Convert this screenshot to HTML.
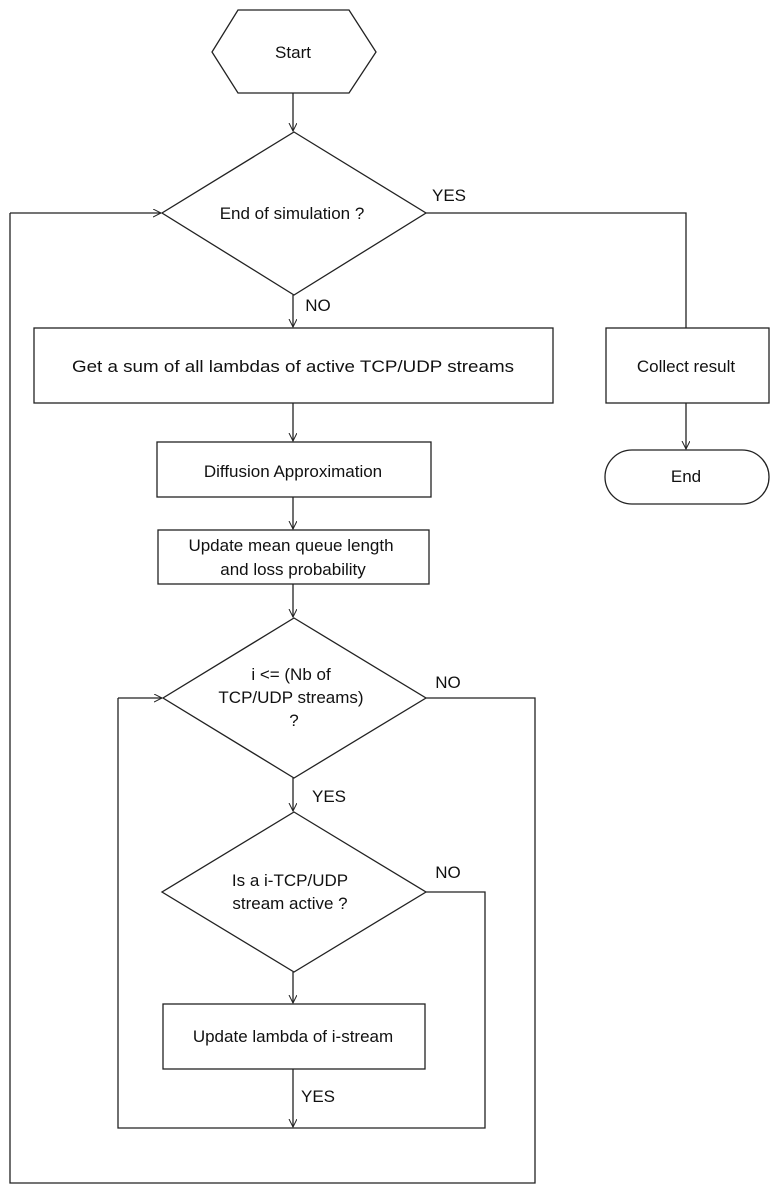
<!DOCTYPE html>
<html><head><meta charset="utf-8"><style>html,body{margin:0;padding:0;background:#fff;}svg{display:block}</style></head>
<body>
<svg width="783" height="1204" viewBox="0 0 783 1204" xmlns="http://www.w3.org/2000/svg">
<defs>
<marker id="a" markerWidth="10" markerHeight="10" refX="8" refY="4" orient="auto" markerUnits="userSpaceOnUse">
<path d="M0,0 L8,4 L0,8" fill="none" stroke="#222" stroke-width="1"/>
</marker>
</defs>
<g fill="none" stroke="#222" stroke-width="1.3">
<polygon points="238,10 349,10 376,52 349,93 238,93 212,52" fill="#fff"/>
<line x1="293" y1="93" x2="293" y2="131" marker-end="url(#a)"/>
<polygon points="294,132 426,213 294,295 162,213"/>
<polyline points="426,213 686,213 686,328"/>
<line x1="293" y1="295" x2="293" y2="327" marker-end="url(#a)"/>
<rect x="34" y="328" width="519" height="75"/>
<rect x="606" y="328" width="163" height="75"/>
<line x1="686" y1="403" x2="686" y2="449" marker-end="url(#a)"/>
<path d="M632,450 L742,450 A27,27 0 0 1 742,504 L632,504 A27,27 0 0 1 632,450 Z"/>
<line x1="293" y1="403" x2="293" y2="441" marker-end="url(#a)"/>
<rect x="157" y="442" width="274" height="55"/>
<line x1="293" y1="497" x2="293" y2="529" marker-end="url(#a)"/>
<rect x="158" y="530" width="271" height="54"/>
<line x1="293" y1="584" x2="293" y2="617" marker-end="url(#a)"/>
<polygon points="294,618 426,698 294,778 163,698"/>
<polyline points="426,698 535,698 535,1183 10,1183 10,213"/>
<line x1="10" y1="213" x2="161" y2="213" marker-end="url(#a)"/>
<line x1="293" y1="778" x2="293" y2="811" marker-end="url(#a)"/>
<polygon points="294,812 426,892 294,972 162,892"/>
<polyline points="426,892 485,892 485,1128 118,1128 118,698"/>
<line x1="118" y1="698" x2="162" y2="698" marker-end="url(#a)"/>
<line x1="293" y1="972" x2="293" y2="1003" marker-end="url(#a)"/>
<rect x="163" y="1004" width="262" height="65"/>
<line x1="293" y1="1069" x2="293" y2="1127" marker-end="url(#a)"/>
</g>
<g font-family="Liberation Sans, Arial, sans-serif" font-size="17" fill="#111" text-anchor="middle">
<text x="293" y="58">Start</text>
<text x="292" y="219">End of simulation ?</text>
<text x="449" y="201">YES</text>
<text x="318" y="311">NO</text>
<text x="293" y="372" textLength="442" lengthAdjust="spacingAndGlyphs">Get a sum of all lambdas of active TCP/UDP streams</text>
<text x="686" y="372">Collect result</text>
<text x="686" y="482">End</text>
<text x="293" y="477">Diffusion Approximation</text>
<text x="291" y="551">Update mean queue length</text>
<text x="293" y="575">and loss probability</text>
<text x="291" y="680">i &lt;= (Nb of</text>
<text x="291" y="703">TCP/UDP streams)</text>
<text x="294" y="726">?</text>
<text x="448" y="688">NO</text>
<text x="329" y="802">YES</text>
<text x="290" y="886">Is a i-TCP/UDP</text>
<text x="290" y="909">stream active ?</text>
<text x="448" y="878">NO</text>
<text x="293" y="1042">Update lambda of i-stream</text>
<text x="318" y="1102">YES</text>
</g>
</svg>
</body></html>
